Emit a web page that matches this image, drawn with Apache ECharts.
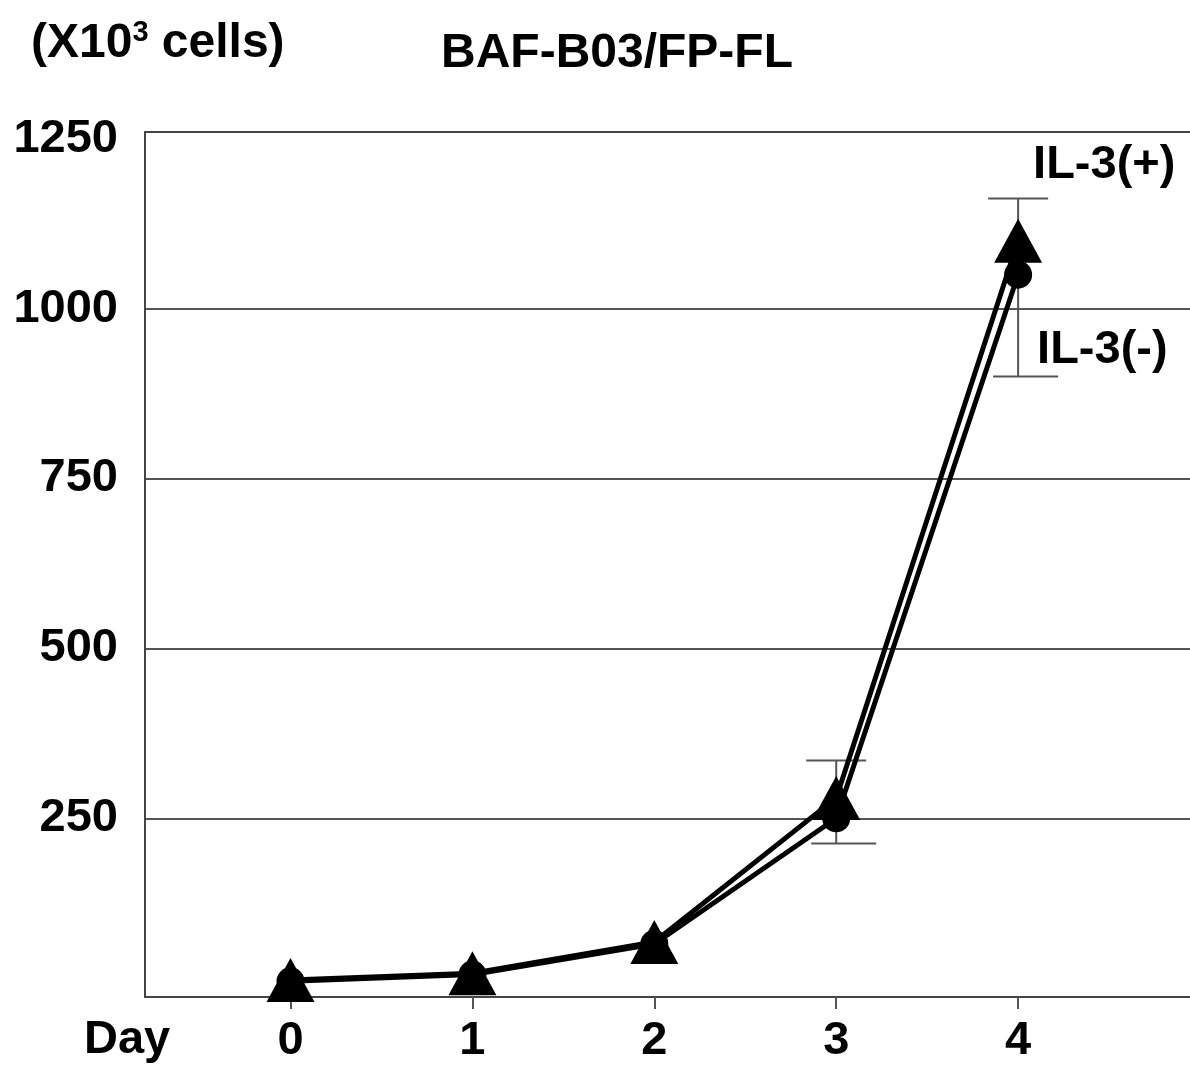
<!DOCTYPE html>
<html>
<head>
<meta charset="utf-8">
<title>BAF-B03/FP-FL</title>
<script src="https://cdn.jsdelivr.net/npm/echarts@6/dist/echarts.min.js"></script>
<style>
  html, body { margin: 0; padding: 0; background: #fff; }
  #chart { width: 1190px; height: 1068px; }
</style>
</head>
<body>
<div id="chart"></div>
<script>
// data (x10^3 cells)
const days = [0, 1, 2, 3, 4];
const yLabels = [250, 500, 750, 1000, 1250];
const yGridLines = [250, 500, 750, 1000];
const plusMean = [12, 22, 68, 280, 1100];   // IL-3(+), triangles
const plusErrUp = [0, 0, 0, 55, 62];
const minusMean = [10, 20, 65, 250, 1050];  // IL-3(-), circles
const minusErrDown = [0, 0, 0, 37, 150];

const font = 'Liberation Sans, Arial, Helvetica, sans-serif';
const fs = 47;
const ink = '#000';
const gridCol = '#555';

let chart = echarts.init(document.getElementById('chart'));

// build series data
const plusData = days.map((d, i) => [d, plusMean[i]]);
const minusData = days.map((d, i) => [d, minusMean[i]]);
const plusErr = days.map((d, i) => [d, plusMean[i], plusMean[i] + plusErrUp[i]]).filter(r => r[2] > r[1]);
const minusErr = days.map((d, i) => [d, minusMean[i] - minusErrDown[i], minusMean[i]]).filter(r => r[2] > r[1]);

// 误差线
function errBar(capL, capR, capAtTop) {
  return function (params, api) {
    const x = api.value(0);
    const p1 = api.coord([x, api.value(1)]);
    const p2 = api.coord([x, api.value(2)]);
    const capY = capAtTop ? p2[1] : p1[1];
    const st = { stroke: gridCol, lineWidth: 2 };
    return {
      type: 'group',
      children: [
        { type: 'line', shape: { x1: p1[0], y1: p1[1], x2: p2[0], y2: p2[1] }, style: st },
        { type: 'line', shape: { x1: p1[0] - capL, y1: capY, x2: p1[0] + capR, y2: capY }, style: st }
      ]
    };
  };
}

const boldText = { fontFamily: font, fontSize: fs, fontWeight: 'bold', color: ink };

chart.setOption({
  animation: false,
  backgroundColor: '#fff',
  textStyle: { fontFamily: font },
  title: [
    {
      text: 'BAF-B03/FP-FL',
      left: 612, top: 25, textAlign: 'center',
      textStyle: { ...boldText, fontSize: 48 }
    },
    {
      text: '{a|(X10}{s|3}{a| cells)}',
      left: 26, top: 12,
      textStyle: {
        rich: {
          a: { fontFamily: font, fontSize: 48, fontWeight: 'bold', color: ink, lineHeight: 54 },
          s: { fontFamily: font, fontSize: 29, color: ink, lineHeight: 54, padding: [0, 0, 22, 0] }
        }
      }
    }
  ],
  graphic: [
    {
      type: 'text', left: 84, top: 1017,
      style: { text: 'Day', fontFamily: font, fontSize: fs, fontWeight: 'bold', fill: ink }
    }
  ],
  grid: { left: 145, right: 0, top: 132, bottom: 71 },
  xAxis: [
    {
      type: 'value', min: -0.8, max: 4.945,
      axisLine: { show: true, onZero: false, lineStyle: { color: '#444', width: 2 } },
      axisTick: { show: true, customValues: days, length: 12, lineStyle: { color: gridCol, width: 2 } },
      axisLabel: { customValues: days, margin: 21, ...boldText },
      splitLine: { show: false }
    },
    {
      // top frame line
      type: 'value', position: 'top', min: -0.8, max: 4.945,
      axisLine: { show: true, onZero: false, lineStyle: { color: '#444', width: 2 } },
      axisTick: { show: false }, axisLabel: { show: false }, splitLine: { show: false }
    }
  ],
  yAxis: {
    type: 'value', min: -13, max: 1260,
    axisLine: { show: true, onZero: false, lineStyle: { color: '#444', width: 2 } },
    axisTick: { show: false, customValues: yGridLines },
    axisLabel: { customValues: yLabels, margin: 27, formatter: v => String(v), ...boldText },
    splitLine: { show: true, lineStyle: { color: gridCol, width: 2 } }
  },
  series: [
    {
      name: 'IL-3(-) err', type: 'custom', renderItem: errBar(25, 40, false),
      data: minusErr, z: 1, silent: true
    },
    {
      name: 'IL-3(+) err', type: 'custom', renderItem: errBar(30, 30, true),
      data: plusErr, z: 1, silent: true
    },
    {
      name: 'IL-3(-)', type: 'line', data: minusData,
      symbol: 'circle', symbolSize: 28, z: 3,
      lineStyle: { color: ink, width: 5 }, itemStyle: { color: ink },
      endLabel: { show: true, formatter: 'IL-3(-)', offset: [11, 75], ...boldText }
    },
    {
      name: 'IL-3(+)', type: 'line', data: plusData,
      symbol: 'triangle', symbolSize: [48, 44], z: 4,
      lineStyle: { color: ink, width: 5 }, itemStyle: { color: ink },
      endLabel: { show: true, formatter: 'IL-3(+)', offset: [7, -76], ...boldText }
    }
  ]
});

window.onresize = () => { chart.resize(); };
</script>
</body>
</html>
